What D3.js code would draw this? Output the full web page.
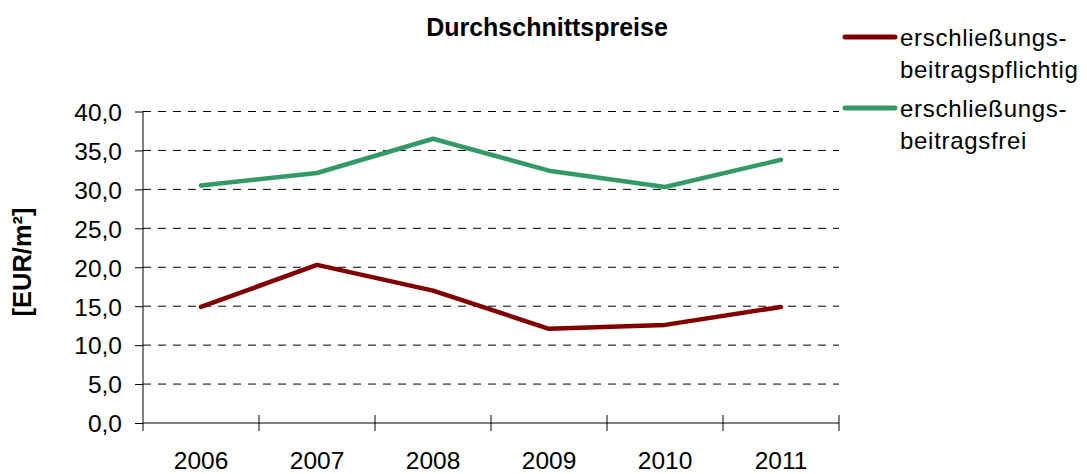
<!DOCTYPE html>
<html lang="de">
<head>
  <meta charset="UTF-8" />
  <title>Durchschnittspreise</title>
  <style>
    body { margin: 0; background: #fff; }
    svg text { font-family: "Liberation Sans", Arial, sans-serif; fill: #000; }
  </style>
</head>
<body>
  <div id="chart"></div>
  <script src="https://d3js.org/d3.v7.min.js"></script>
  <script>
    const years = ["2006", "2007", "2008", "2009", "2010", "2011"];
    const pflichtig = [14.9, 20.3, 17.0, 12.1, 12.6, 14.9];
    const frei = [30.5, 32.1, 36.5, 32.4, 30.3, 33.8];
    const yTicks = [0, 5, 10, 15, 20, 25, 30, 35, 40];

    const series = [
      { label: ["erschließungs-", "beitragspflichtig"], values: pflichtig, color: "#800000" },
      { label: ["erschließungs-", "beitragsfrei"], values: frei, color: "#339966" }
    ];

    const W = 1087, H = 474;
    const plot = { left: 143, right: 839, top: 111.5, bottom: 423 };

    const de = d3.formatLocale({ decimal: ",", thousands: ".", grouping: [3], currency: ["", " €"] });
    const fmt = de.format(".1f");

    const svg = d3.select("#chart").append("svg")
      .attr("width", W)
      .attr("height", H);

    const x = d3.scaleBand().domain(years).range([plot.left, plot.right]);
    const y = d3.scaleLinear().domain([0, 40]).range([plot.bottom, plot.top]);

    // gridlines
    svg.append("g")
      .selectAll("line")
      .data(yTicks.filter(d => d > 0))
      .enter()
      .append("line")
      .attr("x1", plot.left)
      .attr("x2", plot.right)
      .attr("y1", d => y(d))
      .attr("y2", d => y(d))
      .attr("stroke", "#000")
      .attr("stroke-width", 1)
      .attr("stroke-dasharray", "8,7");

    // y axis
    const yAxis = svg.append("g")
      .attr("transform", `translate(${plot.left},0)`)
      .call(d3.axisLeft(y).tickValues(yTicks).tickFormat(fmt).tickSize(8).tickPadding(13));
    yAxis.select(".domain").remove();
    yAxis.selectAll("line").attr("stroke", "#000");
    yAxis.selectAll("text").attr("font-size", "24.5px").attr("dy", "0.36em").style("font-family", null);

    svg.append("line")
      .attr("x1", plot.left).attr("x2", plot.left)
      .attr("y1", plot.top).attr("y2", plot.bottom + 8)
      .attr("stroke", "#000");

    // x axis
    const xAxis = svg.append("g")
      .attr("transform", `translate(0,${plot.bottom})`)
      .call(d3.axisBottom(x).tickSize(0).tickPadding(37));
    xAxis.select(".domain").remove();
    xAxis.selectAll("text").attr("font-size", "24.5px").attr("dy", "0.36em").style("font-family", null);

    svg.append("line")
      .attr("x1", plot.left).attr("x2", plot.right)
      .attr("y1", plot.bottom).attr("y2", plot.bottom)
      .attr("stroke", "#000");

    svg.append("g")
      .selectAll("line")
      .data(years.slice(1).concat(["end"]))
      .enter()
      .append("line")
      .attr("x1", d => d === "end" ? plot.right : x(d))
      .attr("x2", d => d === "end" ? plot.right : x(d))
      .attr("y1", plot.bottom - 8)
      .attr("y2", plot.bottom + 8)
      .attr("stroke", "#000");

    // lines
    const line = d3.line()
      .x((d, i) => x(years[i]) + x.bandwidth() / 2)
      .y(d => y(d));

    svg.append("g")
      .selectAll("path")
      .data(series)
      .enter()
      .append("path")
      .attr("d", d => line(d.values))
      .attr("fill", "none")
      .attr("stroke", d => d.color)
      .attr("stroke-width", 4.5)
      .attr("stroke-linejoin", "round")
      .attr("stroke-linecap", "round");

    // title
    svg.append("text")
      .attr("x", 547)
      .attr("y", 36)
      .attr("text-anchor", "middle")
      .attr("font-size", "25px")
      .attr("font-weight", "bold")
      .text("Durchschnittspreise");

    // y axis title
    svg.append("text")
      .attr("transform", "translate(31,262) rotate(-90)")
      .attr("text-anchor", "middle")
      .attr("font-size", "25.5px")
      .attr("font-weight", "bold")
      .text("[EUR/m²]");

    // legend
    const legend = svg.append("g")
      .selectAll("g")
      .data(series)
      .enter()
      .append("g")
      .attr("transform", (d, i) => `translate(845,${37 + i * 71})`);

    legend.append("line")
      .attr("x1", 0).attr("x2", 50)
      .attr("y1", 0).attr("y2", 0)
      .attr("stroke", d => d.color)
      .attr("stroke-width", 5)
      .attr("stroke-linecap", "round");

    legend.append("text")
      .attr("x", 55)
      .attr("y", 9)
      .attr("font-size", "24px")
      .attr("letter-spacing", "0.7px")
      .selectAll("tspan")
      .data(d => d.label)
      .enter()
      .append("tspan")
      .attr("x", 55)
      .attr("dy", (d, i) => i === 0 ? 0 : 32)
      .text(d => d);
  </script>
</body>
</html>
